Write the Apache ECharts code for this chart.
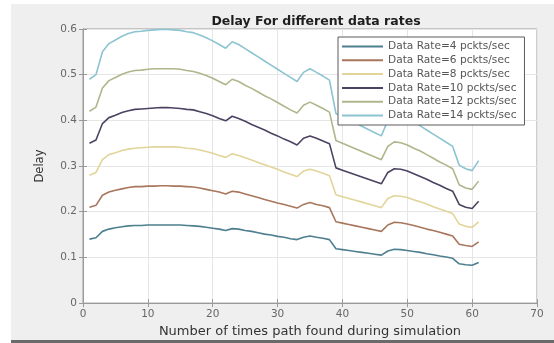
<!DOCTYPE html>
<html>
<head>
<meta charset="utf-8">
<script src="https://cdn.jsdelivr.net/npm/echarts@6/dist/echarts.min.js"></script>
<style>
html,body{margin:0;padding:0;background:#ffffff;}
#chart{width:554px;height:343px;}
</style>
</head>
<body>
<div id="chart"></div>
<script>
const xValues = [1,2,3,4,5,6,7,8,9,10,11,12,13,14,15,16,17,18,19,20,21,22,23,24,25,26,27,28,29,30,31,32,33,34,35,36,37,38,39,40,41,42,43,44,45,46,47,48,49,50,51,52,53,54,55,56,57,58,59,60,61];
const rate4 = [0.140,0.143,0.157,0.162,0.165,0.167,0.169,0.170,0.170,0.171,0.171,0.171,0.171,0.171,0.171,0.170,0.169,0.168,0.166,0.164,0.162,0.159,0.163,0.162,0.159,0.157,0.154,0.151,0.149,0.146,0.144,0.141,0.139,0.144,0.147,0.144,0.142,0.139,0.119,0.117,0.115,0.113,0.111,0.109,0.107,0.105,0.114,0.118,0.117,0.115,0.113,0.111,0.108,0.106,0.103,0.101,0.098,0.086,0.084,0.083,0.089];
const rate6 = [0.210,0.214,0.236,0.243,0.247,0.250,0.253,0.255,0.255,0.256,0.256,0.257,0.257,0.256,0.256,0.255,0.254,0.252,0.249,0.246,0.243,0.239,0.245,0.243,0.239,0.235,0.231,0.227,0.223,0.219,0.216,0.212,0.208,0.216,0.220,0.216,0.213,0.209,0.178,0.175,0.172,0.169,0.166,0.163,0.160,0.157,0.171,0.177,0.176,0.173,0.170,0.166,0.162,0.159,0.155,0.151,0.147,0.129,0.126,0.124,0.134];
const rate8 = [0.280,0.286,0.314,0.325,0.329,0.334,0.337,0.339,0.340,0.341,0.342,0.342,0.342,0.342,0.341,0.339,0.338,0.335,0.332,0.328,0.323,0.319,0.327,0.323,0.318,0.313,0.308,0.303,0.298,0.293,0.287,0.282,0.277,0.289,0.293,0.289,0.284,0.279,0.237,0.233,0.229,0.225,0.221,0.217,0.213,0.209,0.229,0.235,0.234,0.231,0.226,0.222,0.217,0.211,0.206,0.201,0.196,0.173,0.168,0.166,0.178];
const rate10 = [0.350,0.357,0.393,0.406,0.411,0.417,0.421,0.424,0.425,0.426,0.427,0.428,0.428,0.427,0.426,0.424,0.423,0.419,0.415,0.410,0.404,0.399,0.409,0.404,0.398,0.391,0.385,0.379,0.372,0.366,0.359,0.353,0.346,0.361,0.366,0.361,0.355,0.349,0.296,0.291,0.286,0.281,0.276,0.271,0.266,0.261,0.286,0.294,0.293,0.289,0.283,0.277,0.271,0.264,0.258,0.251,0.245,0.216,0.210,0.207,0.223];
const rate12 = [0.420,0.429,0.471,0.487,0.494,0.501,0.506,0.509,0.510,0.512,0.513,0.513,0.513,0.513,0.512,0.509,0.507,0.503,0.498,0.492,0.485,0.478,0.490,0.485,0.477,0.470,0.462,0.454,0.447,0.439,0.431,0.423,0.416,0.433,0.440,0.433,0.426,0.418,0.356,0.350,0.344,0.338,0.332,0.326,0.320,0.314,0.343,0.353,0.351,0.346,0.339,0.333,0.325,0.317,0.309,0.302,0.294,0.259,0.252,0.249,0.267];
const rate14 = [0.490,0.500,0.550,0.568,0.576,0.584,0.590,0.594,0.595,0.597,0.598,0.599,0.599,0.598,0.597,0.594,0.592,0.587,0.581,0.574,0.566,0.558,0.572,0.566,0.557,0.548,0.539,0.530,0.521,0.512,0.503,0.494,0.485,0.505,0.513,0.505,0.497,0.488,0.415,0.408,0.401,0.394,0.387,0.380,0.373,0.366,0.400,0.412,0.410,0.404,0.396,0.388,0.379,0.370,0.361,0.352,0.343,0.302,0.294,0.290,0.312];
const seriesNames = ['Data Rate=4 pckts/sec','Data Rate=6 pckts/sec','Data Rate=8 pckts/sec','Data Rate=10 pckts/sec','Data Rate=12 pckts/sec','Data Rate=14 pckts/sec'];
const seriesColors = ['#4d7f8f','#a8765c','#e2d49a','#4c4262','#b0b68c','#8cc4d2'];
const xTicks = [0,10,20,30,40,50,60,70];
const yTicks = [0,0.1,0.2,0.3,0.4,0.5,0.6];

const allData = [rate4, rate6, rate8, rate10, rate12, rate14];
const font = 'DejaVu Sans';

const chart = echarts.init(document.getElementById('chart'), null, {renderer:'canvas'});
const series = allData.map((vals, i) => ({
  name: seriesNames[i],
  type: 'line',
  data: xValues.map((x, k) => [x, vals[k]]),
  symbol: 'none',
  showSymbol: false,
  smooth: false,
  lineStyle: {width: 1.6, color: seriesColors[i]},
  itemStyle: {color: seriesColors[i]},
  z: 3
}));

const tickStyle = {show: true, inside: true, length: 4, lineStyle: {color: '#9a9a9a'}};
const baseAxisLine = {show: true, lineStyle: {color: '#9a9a9a', width: 1}};
const option = {
  animation: false,
  backgroundColor: 'transparent',
  graphic: [
    {type: 'rect', z: -10, silent: true, shape: {x: 11, y: 4, width: 543, height: 336}, style: {fill: '#efefef'}},
    {type: 'rect', z: -9, silent: true, shape: {x: 11, y: 340, width: 543, height: 3}, style: {fill: '#6a6a6a'}}
  ],
  title: {
    text: 'Delay For different data rates',
    left: 311, textAlign: 'center', top: 10,
    textStyle: {fontFamily: font, fontSize: 12.5, fontWeight: 'bold', color: '#1e1e1e'}
  },
  grid: {left: 83, right: 17, top: 29, bottom: 37, show: true, backgroundColor: '#ffffff', borderColor: '#9a9a9a', borderWidth: 1, containLabel: false},
  legend: {
    show: true,
    orient: 'vertical',
    left: 338, top: 37,
    backgroundColor: '#ffffff',
    borderColor: '#5a5a5a', borderWidth: 1,
    padding: [4, 8, 4, 3],
    itemWidth: 41, itemHeight: 10, itemGap: 2.8, itemTextGap: 5,
    itemStyle: {opacity: 0, color: 'transparent', borderWidth: 0},
    textStyle: {fontFamily: font, fontSize: 10.6, lineHeight: 10, color: '#555'},
    data: seriesNames
  },
  xAxis: [{
    type: 'value', min: 0, max: 70, interval: 10,
    name: 'Number of times path found during simulation',
    nameLocation: 'middle', nameGap: 19,
    nameTextStyle: {fontFamily: font, fontSize: 13, color: '#333'},
    axisLine: baseAxisLine,
    axisTick: tickStyle,
    axisLabel: {fontFamily: font, fontSize: 10.5, color: '#666', margin: 6},
    splitLine: {show: true, lineStyle: {color: '#e6e6e6', width: 1}}
  }, {
    type: 'value', min: 0, max: 70, interval: 10, position: 'top',
    axisLine: baseAxisLine,
    axisTick: tickStyle,
    axisLabel: {show: false}, splitLine: {show: false}
  }],
  yAxis: [{
    type: 'value', min: 0, max: 0.6, interval: 0.1,
    name: 'Delay', nameLocation: 'middle', nameGap: 37, nameRotate: 90,
    nameTextStyle: {fontFamily: font, fontSize: 11.5, color: '#333'},
    axisLine: baseAxisLine,
    axisTick: tickStyle,
    axisLabel: {fontFamily: font, fontSize: 10.5, color: '#666', margin: 6, formatter: v => (v === 0 ? '0' : v.toFixed(1))},
    splitLine: {show: true, lineStyle: {color: '#e6e6e6', width: 1}}
  }, {
    type: 'value', min: 0, max: 0.6, interval: 0.1, position: 'right',
    axisLine: baseAxisLine,
    axisTick: tickStyle,
    axisLabel: {show: false}, splitLine: {show: false}
  }],
  series: series
};
chart.setOption(option);
</script>
</body>
</html>
